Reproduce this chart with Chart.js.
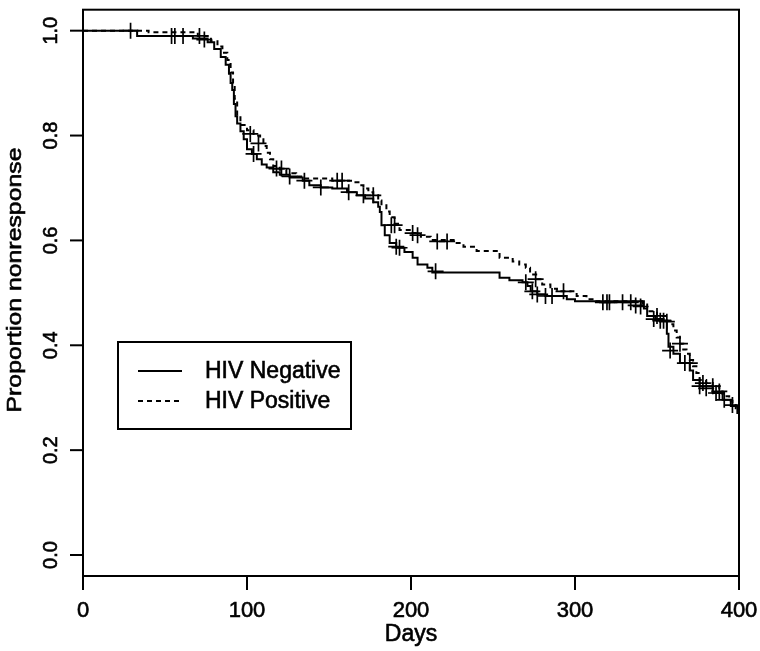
<!DOCTYPE html>
<html>
<head>
<meta charset="utf-8">
<script src="https://cdn.jsdelivr.net/npm/chart.js@4.4.0/dist/chart.umd.min.js"></script>
<style>body{margin:0;background:#fff}canvas{display:block}</style>
</head>
<body>
<canvas id="myChart" width="760" height="651"></canvas>
<script>
// Kaplan-Meier curves (step points: day, proportion)
const negDays = [0, 33, 67, 76, 80, 84, 87, 89, 90, 91, 92, 93, 94, 96, 98, 100, 103, 106, 109, 112, 116, 120, 126, 134, 138, 145, 152, 161, 167, 172, 177, 180, 181, 182, 184, 187, 191, 196, 201, 204, 210, 213, 254, 260, 268, 271, 273, 277, 283, 295, 300, 342, 344, 349, 354, 356, 357, 360, 364, 370, 372, 376, 384, 390, 395, 399, 400];
const negSurv = [1.0, 0.99, 0.985, 0.978, 0.965, 0.95, 0.935, 0.918, 0.9, 0.887, 0.86, 0.837, 0.823, 0.808, 0.793, 0.774, 0.765, 0.755, 0.745, 0.739, 0.73, 0.725, 0.72, 0.714, 0.705, 0.701, 0.699, 0.692, 0.686, 0.68, 0.673, 0.664, 0.654, 0.629, 0.61, 0.595, 0.586, 0.578, 0.567, 0.554, 0.548, 0.539, 0.529, 0.524, 0.52, 0.513, 0.503, 0.497, 0.494, 0.488, 0.484, 0.47, 0.456, 0.45, 0.447, 0.422, 0.397, 0.384, 0.366, 0.352, 0.334, 0.322, 0.309, 0.296, 0.284, 0.271, 0.271];

const posDays = [0, 40, 70, 78, 82, 85, 88, 90, 91.5, 92.5, 94, 96, 100, 104, 108, 110, 112, 114, 116, 120, 124, 130, 134, 152, 165, 169, 171, 174, 177, 180, 182, 185, 187, 190, 193, 201, 206, 212, 226, 232, 240, 254, 262, 266, 270, 272.6, 277, 280, 285, 289, 301, 307, 312, 341, 344, 350, 356, 358, 360, 362, 364, 366, 368, 370, 372, 374, 376, 380, 384, 388, 390, 394, 396, 398, 400];
const posSurv = [1.0, 0.997, 0.99, 0.98, 0.97, 0.958, 0.944, 0.92, 0.9, 0.87, 0.837, 0.82, 0.81, 0.8, 0.793, 0.78, 0.767, 0.755, 0.742, 0.735, 0.728, 0.722, 0.718, 0.714, 0.711, 0.705, 0.699, 0.692, 0.686, 0.676, 0.667, 0.655, 0.644, 0.632, 0.62, 0.614, 0.607, 0.601, 0.595, 0.588, 0.58, 0.567, 0.56, 0.554, 0.548, 0.535, 0.526, 0.516, 0.508, 0.503, 0.494, 0.488, 0.484, 0.478, 0.465, 0.456, 0.447, 0.44, 0.428, 0.415, 0.403, 0.392, 0.384, 0.372, 0.36, 0.347, 0.334, 0.328, 0.322, 0.312, 0.303, 0.294, 0.286, 0.28, 0.28];

// censored observations (+ marks)
const negCensDays = [29, 54, 61, 74, 104, 118, 126, 135, 145, 162, 171, 191, 193, 215, 270, 274, 277, 282, 286, 317, 319.5, 321, 329, 334, 348, 352, 358, 367, 376, 380, 386, 391];
const negCensSurv = [1.0, 0.99, 0.99, 0.983, 0.765, 0.737, 0.722, 0.714, 0.701, 0.692, 0.686, 0.588, 0.586, 0.541, 0.52, 0.503, 0.497, 0.494, 0.494, 0.482, 0.482, 0.482, 0.482, 0.482, 0.45, 0.447, 0.39, 0.366, 0.322, 0.318, 0.309, 0.296];
const posCensDays = [56, 71, 102, 107, 121, 155, 158, 177, 188, 190, 201, 204, 216, 222, 276, 293, 337, 340, 350, 354, 356, 364, 370, 378, 384, 388, 396];
const posCensSurv = [0.99, 0.99, 0.803, 0.785, 0.737, 0.714, 0.714, 0.686, 0.629, 0.629, 0.614, 0.61, 0.598, 0.598, 0.526, 0.503, 0.476, 0.474, 0.456, 0.447, 0.445, 0.403, 0.366, 0.328, 0.322, 0.312, 0.286];

const seriesNames = ['HIV Negative', 'HIV Positive'];
const xTicks = [0, 100, 200, 300, 400];
const yTicks = [0, 0.2, 0.4, 0.6, 0.8, 1.0];
const yTickLabels = ['0.0', '0.2', '0.4', '0.6', '0.8', '1.0'];
const xTitle = 'Days';
const yTitle = 'Proportion nonresponse';

function pts(xs, ys) {
    return xs.map((x, i) => ({x: x, y: ys[i]}));
}

const FONT = '"Liberation Sans", Arial, sans-serif';

// text a touch heavier, like the scanned R output
function txt(c, s, x, y) {
    c.fillText(s, x, y);
    c.strokeText(s, x, y);
}

// R-style frame, axes, labels and legend
const rPlot = {
    id: 'rPlot',
    beforeDraw(chart) {
        const c = chart.ctx;
        c.save();
        c.fillStyle = '#fff';
        c.fillRect(0, 0, chart.width, chart.height);
        c.restore();
    },
    afterDraw(chart) {
        const c = chart.ctx;
        const a = chart.chartArea;
        const xs = chart.scales.x, ys = chart.scales.y;
        c.save();
        c.strokeStyle = '#000';
        c.fillStyle = '#000';
        c.lineWidth = 2;
        c.strokeRect(a.left, a.top, a.right - a.left, a.bottom - a.top);

        // x axis
        c.textAlign = 'center';
        c.textBaseline = 'alphabetic';
        xTicks.forEach(t => {
            const px = xs.getPixelForValue(t);
            c.lineWidth = 2;
            c.beginPath();
            c.moveTo(px, a.bottom);
            c.lineTo(px, a.bottom + 14);
            c.stroke();
            c.lineWidth = 0.6;
            c.font = '22px ' + FONT;
            txt(c, String(t), px, 617);
        });
        c.font = '23px ' + FONT;
        txt(c, xTitle, (a.left + a.right) / 2, 641);

        // y axis
        yTicks.forEach((t, i) => {
            const py = ys.getPixelForValue(t);
            c.lineWidth = 2;
            c.beginPath();
            c.moveTo(a.left, py);
            c.lineTo(a.left - 13, py);
            c.stroke();
            c.lineWidth = 0.6;
            c.font = '20px ' + FONT;
            c.save();
            c.translate(57, py);
            c.rotate(-Math.PI / 2);
            txt(c, yTickLabels[i], 0, 0);
            c.restore();
        });
        c.font = '21px ' + FONT;
        const w = c.measureText(yTitle).width;
        c.save();
        c.translate(21, 280);
        c.rotate(-Math.PI / 2);
        c.scale(265 / w, 1);
        c.lineWidth = 0.6;
        txt(c, yTitle, 0, 0);
        c.restore();

        // legend
        c.lineWidth = 2;
        c.strokeRect(118, 342, 233, 87);
        c.font = '23px ' + FONT;
        c.textAlign = 'left';
        chart.data.datasets.slice(0, 2).forEach((ds, i) => {
            const ly = 371 + i * 30;
            c.save();
            c.lineWidth = 1.8;
            c.setLineDash(ds.borderDash || []);
            c.beginPath();
            c.moveTo(138, ly);
            c.lineTo(182, ly);
            c.stroke();
            c.restore();
            c.lineWidth = 0.6;
            txt(c, ds.label, 205, ly + 7);
        });
        c.restore();
    }
};

const ctx = document.getElementById('myChart').getContext('2d');
const myChart = new Chart(ctx, {
    type: 'line',
    data: {
        datasets: [{
            label: seriesNames[0],
            data: pts(negDays, negSurv),
            stepped: true,
            borderColor: '#000',
            borderWidth: 2,
            pointRadius: 0,
            fill: false
        }, {
            label: seriesNames[1],
            data: pts(posDays, posSurv),
            stepped: true,
            borderColor: '#000',
            borderWidth: 2,
            borderDash: [5, 4],
            pointRadius: 0,
            fill: false
        }, {
            label: 'censored neg',
            data: pts(negCensDays, negCensSurv),
            showLine: false,
            pointStyle: 'cross',
            pointRadius: 8,
            pointBorderWidth: 1.7,
            pointBorderColor: '#000'
        }, {
            label: 'censored pos',
            data: pts(posCensDays, posCensSurv),
            showLine: false,
            pointStyle: 'cross',
            pointRadius: 8,
            pointBorderWidth: 1.7,
            pointBorderColor: '#000'
        }]
    },
    options: {
        responsive: false,
        animation: false,
        devicePixelRatio: 1,
        layout: {padding: {left: 83, right: 21, top: 2, bottom: 75}},
        scales: {
            x: {type: 'linear', min: 0, max: 400, display: false},
            y: {type: 'linear', min: -0.04, max: 1.04, display: false}
        },
        plugins: {
            legend: {display: false},
            tooltip: {enabled: false}
        }
    },
    plugins: [rPlot]
});
</script>
</body>
</html>
